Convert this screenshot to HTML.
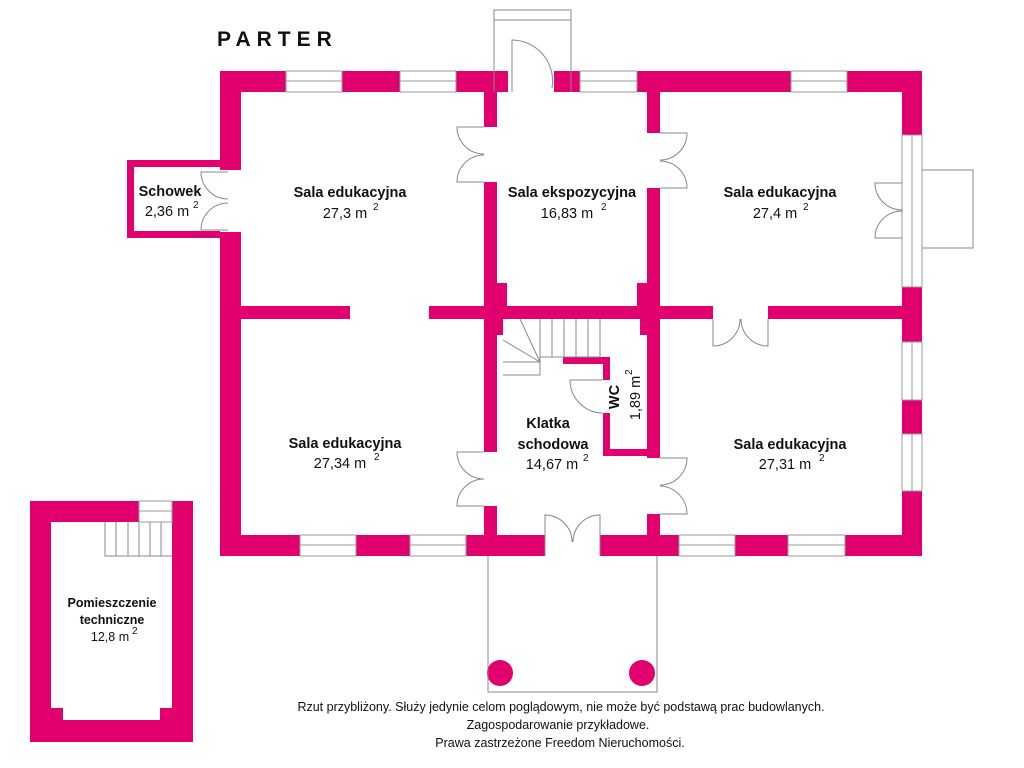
<!DOCTYPE html>
<html><head><meta charset="utf-8"><style>
html,body{margin:0;padding:0;background:#fff;}
svg{display:block}
text{font-family:"Liberation Sans",sans-serif;fill:#111}
.b{font-weight:bold;font-size:14.5px}
.n{font-size:14.5px}
.s{font-size:10px}
</style></head><body>
<svg width="1024" height="768" viewBox="0 0 1024 768" xmlns="http://www.w3.org/2000/svg">
<g fill="#e2006f">
<rect x="220" y="71" width="702" height="21"/>
<rect x="220" y="71" width="21" height="485"/>
<rect x="902" y="71" width="20" height="485"/>
<rect x="220" y="535" width="702" height="21"/>
<rect x="484" y="92" width="13" height="443"/>
<rect x="647" y="92" width="13" height="443"/>
<rect x="497" y="283" width="10" height="23"/>
<rect x="637" y="283" width="10" height="23"/>
<rect x="241" y="306" width="109" height="13"/>
<rect x="429" y="306" width="284" height="13"/>
<rect x="768" y="306" width="134" height="13"/>
<rect x="497" y="319" width="6" height="16"/>
<rect x="640" y="319" width="7" height="16"/>
<rect x="563" y="357" width="47" height="7"/>
<rect x="603" y="357" width="7" height="23"/>
<rect x="603" y="413" width="7" height="42"/>
<rect x="603" y="449" width="50" height="7"/>
<rect x="127" y="160" width="93" height="78"/>
<rect x="30" y="501" width="163" height="241"/>
<circle cx="500" cy="673" r="13"/>
<circle cx="642" cy="673" r="13"/>
</g>
<g fill="#fff">
<rect x="134" y="167" width="86" height="64"/>
<rect x="51" y="522" width="121" height="186"/>
<rect x="63" y="707" width="97" height="13"/>
<rect x="139" y="501" width="33" height="21"/>
<rect x="220" y="170" width="21" height="62"/>
<rect x="484" y="127" width="13" height="55"/>
<rect x="484" y="452" width="13" height="54"/>
<rect x="647" y="133" width="13" height="55"/>
<rect x="647" y="458" width="13" height="56"/>
<rect x="508" y="71" width="46" height="21"/>
<rect x="545" y="535" width="55" height="21"/>
<rect x="713" y="306" width="55" height="13"/>
</g>
<g fill="#fff" stroke="#999" stroke-width="1">
<rect x="286" y="71" width="56" height="21"/><line x1="286" y1="81" x2="342" y2="81"/>
<rect x="400" y="71" width="56" height="21"/><line x1="400" y1="81" x2="456" y2="81"/>
<rect x="580" y="71" width="57" height="21"/><line x1="580" y1="81" x2="637" y2="81"/>
<rect x="791" y="71" width="56" height="21"/><line x1="791" y1="81" x2="847" y2="81"/>
<rect x="300" y="535" width="56" height="21"/><line x1="300" y1="545" x2="356" y2="545"/>
<rect x="410" y="535" width="56" height="21"/><line x1="410" y1="545" x2="466" y2="545"/>
<rect x="679" y="535" width="56" height="21"/><line x1="679" y1="545" x2="735" y2="545"/>
<rect x="788" y="535" width="57" height="21"/><line x1="788" y1="545" x2="845" y2="545"/>
<rect x="902" y="135" width="20" height="152"/><line x1="912" y1="135" x2="912" y2="287"/>
<rect x="902" y="342" width="20" height="58"/><line x1="912" y1="342" x2="912" y2="400"/>
<rect x="902" y="434" width="20" height="57"/><line x1="912" y1="434" x2="912" y2="491"/>
<rect x="139" y="501" width="33" height="21"/><line x1="139" y1="511" x2="172" y2="511"/>
</g>
<g fill="none" stroke="#888" stroke-width="1">
<path d="M494,92 V10 H571 V92 M494,20 H571"/>
<path d="M512,92 V40 A41,41 0 0 1 552,88"/>
<path d="M922,170 H973 V248 H922"/>
<path d="M488,556 V692 H657 V556"/>
<path d="M484,127 H457 A27,27 0 0 0 484,154 M484,182 H457 A27,27 0 0 1 484,155"/>
<path d="M660,133 H687 A27,27 0 0 1 660,160 M660,188 H687 A27,27 0 0 0 660,161"/>
<path d="M902,183 H875 A27,27 0 0 0 902,210 M902,238 H875 A27,27 0 0 1 902,211"/>
<path d="M713,319 V346 A27,27 0 0 0 740,319 M768,319 V346 A27,27 0 0 1 741,319"/>
<path d="M484,452 H457 A27,27 0 0 0 484,479 M484,506 H457 A27,27 0 0 1 484,479"/>
<path d="M660,458 H687 A27,27 0 0 1 660,485 M660,514 H687 A28,28 0 0 0 660,486"/>
<path d="M545,556 V515 A27,27 0 0 1 572,542 M600,556 V515 A27,27 0 0 0 573,542"/>
<path d="M228,172 H201 A27,27 0 0 0 228,199 M228,230 H201 A27,27 0 0 1 228,203"/>
<path d="M603,380 H570 A33,33 0 0 0 603,413"/>
<path d="M503,375 H540 V319 M540,357 H600 V319 M552,319 V357 M564,319 V357 M576,319 V357 M588,319 V357 M503,362 H540 M503,340 L540,362 M520,319 L540,362"/>
<path d="M105,522 V556 H172 M116,522 V556 M128,522 V556 M139,522 V556 M150,522 V556 M161,522 V556"/>
</g>
<text x="217" y="46" style="font-weight:bold;font-size:21px;letter-spacing:6px">PARTER</text>
<text x="170" y="196" class="b" text-anchor="middle">Schowek</text>
<text x="167" y="216" class="n" text-anchor="middle">2,36 m</text><text x="193" y="208" class="s">2</text>
<text x="350" y="197" class="b" text-anchor="middle">Sala edukacyjna</text>
<text x="345" y="218" class="n" text-anchor="middle">27,3 m</text><text x="373" y="210" class="s">2</text>
<text x="572" y="197" class="b" text-anchor="middle">Sala ekspozycyjna</text>
<text x="567" y="218" class="n" text-anchor="middle">16,83 m</text><text x="601" y="210" class="s">2</text>
<text x="780" y="197" class="b" text-anchor="middle">Sala edukacyjna</text>
<text x="775" y="218" class="n" text-anchor="middle">27,4 m</text><text x="803" y="210" class="s">2</text>
<text x="345" y="448" class="b" text-anchor="middle">Sala edukacyjna</text>
<text x="340" y="468" class="n" text-anchor="middle">27,34 m</text><text x="374" y="460" class="s">2</text>
<text x="790" y="449" class="b" text-anchor="middle">Sala edukacyjna</text>
<text x="785" y="469" class="n" text-anchor="middle">27,31 m</text><text x="819" y="461" class="s">2</text>
<text x="548" y="428" class="b" text-anchor="middle">Klatka</text>
<text x="553" y="449" class="b" text-anchor="middle">schodowa</text>
<text x="552" y="469" class="n" text-anchor="middle">14,67 m</text><text x="583" y="461" class="s">2</text>
<text transform="translate(619,397) rotate(-90)" class="b" text-anchor="middle">WC</text>
<text transform="translate(640,398) rotate(-90)" class="n" text-anchor="middle">1,89 m</text>
<text transform="translate(632,375) rotate(-90)" class="s">2</text>
<text x="112" y="607" text-anchor="middle" style="font-weight:bold;font-size:12.5px">Pomieszczenie</text>
<text x="112" y="624" text-anchor="middle" style="font-weight:bold;font-size:12.5px">techniczne</text>
<text x="110" y="641" text-anchor="middle" style="font-size:12.5px">12,8 m</text><text x="132" y="634" class="s">2</text>
<text x="561" y="711" text-anchor="middle" style="font-size:12.5px">Rzut przybliżony. Służy jedynie celom poglądowym, nie może być podstawą prac budowlanych.</text>
<text x="558" y="729" text-anchor="middle" style="font-size:12.5px">Zagospodarowanie przykładowe.</text>
<text x="560" y="747" text-anchor="middle" style="font-size:12.5px">Prawa zastrzeżone Freedom Nieruchomości.</text>
</svg>
</body></html>
